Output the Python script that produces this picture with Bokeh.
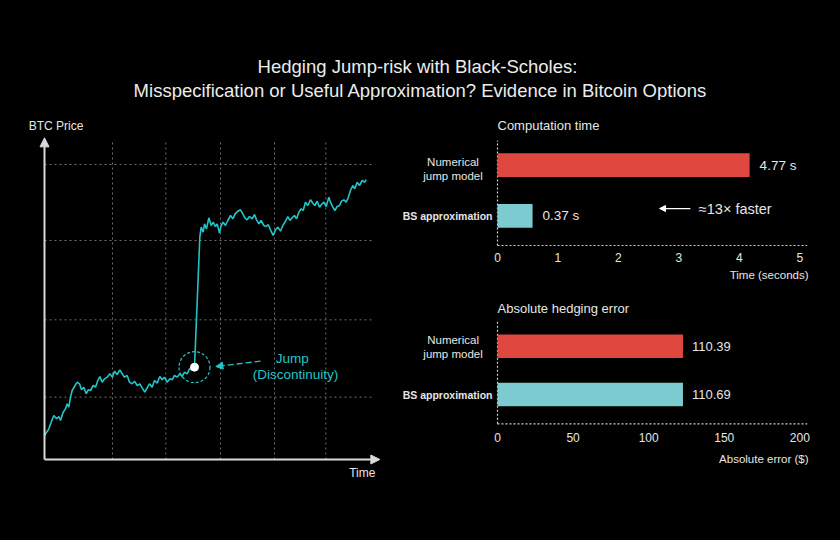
from bokeh.plotting import figure
from bokeh.layouts import column, row
from bokeh.models import Range1d, Arrow, NormalHead, ColumnDataSource
from bokeh.core.properties import value
from bokeh.embed import file_html
from bokeh.resources import INLINE

FONT = "Liberation Sans"
BG = "#000000"
CYAN = "#22c5c7"
RED = "#e0473f"
CYAN_BAR = "#7ccbd0"
TXT = "#e6e6e6"
AXC = "#d9d9d9"
GRIDC = "#6f6f6f"

# ---------------- data ----------------
title_lines = ["Hedging Jump-risk with Black-Scholes:",
               "Misspecification or Useful Approximation? Evidence in Bitcoin Options"]

t_days = [0, 3.25, 5, 7, 9, 10.75, 12, 14, 15.75, 17, 18.25, 19.5, 20.75, 22.5, 24.5, 26.25,
          27.75, 29.5, 31.25, 32.75, 34.5, 36.5, 38.25, 40, 41.5, 43.25, 45, 47, 49, 51, 52.5,
          54.5, 56.5, 58.25, 60, 62, 63.75, 65.75, 67.5, 69.5, 71.5, 73.25, 75.25, 77, 78.75,
          80.75, 82.5, 84.5, 86.5, 88.25, 90, 92, 94, 95.75, 97.5, 99.5, 101.5, 103.25, 105,
          107, 108.75, 110.75, 112.5,
          116.5, 117.5, 119, 120, 121.5, 123.25, 125, 126.5, 128.25, 129.5, 131.25, 132.5, 134,
          135.75, 137.5, 139.5, 141.25, 143, 145, 147, 148.75, 150.25, 152, 153.75, 155.75,
          157.5, 159, 160.75, 162.5, 164.5, 166.25, 167.75, 169.5, 171.5, 173.25, 175, 177,
          178.75, 180.75, 182.5, 184, 185.75, 187.5, 189, 190.75, 192.5, 194, 195.75, 197.5,
          199.5, 201.25, 202.75, 204.5, 206.25, 207.75, 209.5, 211.25, 213.25, 214.5, 216.25,
          217.75, 219.5, 221.25, 222.75, 224.5, 226.25, 227.75, 229.5, 231.25, 232.75, 234.5,
          236.25, 238.25, 240, 241.25]
btc_price = [7.2, 9.2, 11.2, 13.2, 12.2, 12.9, 11.7, 14.2, 15.2, 16.7, 15.7, 18.7, 20.7, 21.9,
             23.2, 22.7, 20.9, 21.7, 19.7, 20.9, 20.7, 22.2, 21.7, 23.7, 24.9, 23.2, 24.2, 24.7,
             25.7, 24.7, 26.5, 25.5, 26.9, 25.7, 24.7, 25.2, 23.2, 22.7, 23.5, 22.2, 22.7, 21.5,
             20.2, 21.5, 22.7, 21.7, 23.7, 22.9, 24.9, 23.9, 24.7, 23.2, 24.2, 23.9, 25.2, 24.7,
             25.7, 24.9, 26.2, 25.7, 27.2, 26.9, 27.7,
             66.7, 69.7, 68.2, 70.7, 69.2, 72.5, 70.2, 71.2, 69.9, 70.7, 67.9, 70.2, 71.2, 70.2,
             71.7, 73.2, 72.2, 73.7, 74.5, 74.9, 73.7, 72.5, 71.9, 72.9, 72.2, 73.5, 71.9, 70.7,
             71.7, 70.2, 69.9, 70.5, 68.9, 67.2, 68.9, 69.7, 68.5, 70.2, 71.5, 72.9, 71.7, 72.5,
             73.2, 72.2, 74.2, 75.2, 74.7, 77.2, 76.2, 77.9, 76.9, 76.2, 77.5, 75.7, 76.5, 77.2,
             75.9, 78.7, 77.2, 75.7, 74.7, 75.9, 76.2, 77.5, 77.9, 77.2, 78.5, 80.7, 82.2, 81.2,
             83.2, 82.2, 83.7, 83.2, 83.9]
jump_index = 62

grid_t = [51, 91, 132, 172.5, 211]
grid_p = [18.7, 41.9, 65.7, 88.5]

models = ["Numerical jump model", "BS approximation"]
model_lines = [["Numerical", "jump model"], ["BS approximation"]]
time_bar = [4.17, 0.58]
time_text = ["4.77 s", "0.37 s"]
time_ticks = [0, 1, 2, 3, 4, 5]
err_bar = [122.7, 122.7]
err_text = ["110.39", "110.69"]
err_ticks = [0, 50, 100, 150, 200]
bar_colors = [RED, CYAN_BAR]
speedup_text = "\u224813\u00d7 faster"

BLACK_STYLE = {"background-color": BG}


def base_fig(w, h, xr, yr):
    p = figure(width=w, height=h, x_range=xr, y_range=yr, output_backend="svg",
               toolbar_location=None, min_border=0, x_axis_location=None,
               y_axis_location=None, outline_line_color=None,
               background_fill_color=BG, border_fill_color=BG, styles=BLACK_STYLE)
    p.xgrid.visible = False
    p.ygrid.visible = False
    return p


def txt(p, x, y, text, size, color=TXT, align="left", bold=False, **kw):
    p.text(x=x, y=y, text=text, text_font=value(FONT), text_font_size=f"{size}px",
           text_color=color, text_align=align, text_baseline="middle",
           text_font_style="bold" if bold else "normal", **kw)


# ---------------- title ----------------
tp = base_fig(840, 100, Range1d(0, 840), Range1d(0, 100))
txt(tp, [417], [34], [title_lines[0]], 18.5, color="#ececec", align="center")
txt(tp, [420], [10.5], [title_lines[1]], 18.5, color="#ececec", align="center")

# ---------------- left: price path ----------------
lp = base_fig(390, 440, Range1d(-33, 259.5), Range1d(-24.3, 107.7))
lp.segment(x0=[0] * len(grid_p), x1=[247.5] * len(grid_p), y0=grid_p, y1=grid_p,
           line_color=GRIDC, line_dash="2 3", line_width=1)
lp.segment(x0=grid_t, x1=grid_t, y0=[0] * len(grid_t), y1=[95.7] * len(grid_t),
           line_color=GRIDC, line_dash="2 3", line_width=1)
lp.add_layout(Arrow(end=NormalHead(size=9, fill_color=AXC, line_color=AXC),
                    x_start=0, y_start=0, x_end=0, y_end=96.5, line_color=AXC, line_width=2))
lp.add_layout(Arrow(end=NormalHead(size=9, fill_color=AXC, line_color=AXC),
                    x_start=0, y_start=0, x_end=251.5, y_end=0, line_color=AXC, line_width=2))
lp.line(t_days, btc_price, line_color=CYAN, line_width=1.6)
jx, jy = t_days[jump_index], btc_price[jump_index]
lp.scatter([jx], [jy], size=31, marker="circle", fill_alpha=0, line_color=CYAN,
           line_dash="3 2", line_width=1.2)
lp.scatter([jx], [jy], size=8, marker="circle", fill_color="white", line_color="white")
lp.add_layout(Arrow(end=NormalHead(size=7, fill_color=CYAN, line_color=CYAN),
                    x_start=162, y_start=29.5, x_end=128.5, y_end=27.9,
                    line_color=CYAN, line_dash="6 3", line_width=1.3))
txt(lp, [185.75], [30.2], ["Jump"], 13.5, color=CYAN, align="center")
txt(lp, [188.25], [25.4], ["(Discontinuity)"], 13.5, color=CYAN, align="center")
txt(lp, [-11.8], [100.1], ["BTC Price"], 12)
txt(lp, [248.2], [-4.1], ["Time"], 12, align="right")


# ---------------- right: bar charts ----------------
def bar_panel(h, xr, yr, ax_y, ax_top, ax_right, tick_y, ticks, bars, labels, bar_h,
              label_off, label_size, title, title_y, xlabel, xlabel_x, xlabel_y,
              cat_x_center, cat_x_right, cat_line_y):
    p = base_fig(450, h, xr, yr)
    # dotted axes
    p.segment(x0=[0, 0], y0=[ax_y, ax_y], x1=[0, ax_right], y1=[ax_top, ax_y],
              line_color="#cfcfcf", line_dash="2 2", line_width=1.2)
    # tick labels
    txt(p, ticks, [tick_y] * len(ticks), [str(t) for t in ticks], 12, align="center")
    ypos = list(range(len(models)))[::-1]
    src = ColumnDataSource(dict(y=ypos, right=bars, color=bar_colors, label=labels))
    p.hbar(y="y", left=0, right="right", height=bar_h, fill_color="color",
           line_color=None, source=src)
    p.text(x="right", y="y", text="label", source=src, x_offset=label_off,
           text_font=value(FONT), text_font_size=f"{label_size}px", text_color=TXT,
           text_align="left", text_baseline="middle")
    txt(p, [0], [title_y], [title], 13)
    txt(p, [xlabel_x], [xlabel_y], [xlabel], 11.5, align="right")
    # category labels
    txt(p, [cat_x_center] * 2, cat_line_y, model_lines[0], 11.5, align="center")
    txt(p, [cat_x_right], [ypos[1]], model_lines[1], 10.5, align="right", bold=True)
    return p


rt = bar_panel(190, Range1d(-107 / 60.46, 343 / 60.46), Range1d(-1.476, 2.279),
               ax_y=-0.587, ax_top=1.488, ax_right=5.122, tick_y=-0.818, ticks=time_ticks,
               bars=time_bar, labels=time_text, bar_h=0.47, label_off=10, label_size=13.5,
               title="Computation time", title_y=1.785, xlabel="Time (seconds)",
               xlabel_x=5.144, xlabel_y=-1.16, cat_x_center=-0.736, cat_x_right=-0.083,
               cat_line_y=[1.073, 0.783])
rt.add_layout(Arrow(end=NormalHead(size=6, fill_color="white", line_color="white"),
                    x_start=3.19, y_start=0.144, x_end=2.68, y_end=0.144,
                    line_color="white", line_width=1.3))
txt(rt, [3.33], [0.125], [speedup_text], 14.5)

rb = bar_panel(250, Range1d(-107 / 1.5115, 343 / 1.5115), Range1d(-3.029, 2.158),
               ax_y=-0.608, ax_top=1.535, ax_right=204.9, tick_y=-0.886, ticks=err_ticks,
               bars=err_bar, labels=err_text, bar_h=0.49, label_off=9, label_size=13,
               title="Absolute hedging error", title_y=1.79, xlabel="Absolute error ($)",
               xlabel_x=205.8, xlabel_y=-1.334, cat_x_center=-29.4, cat_x_right=-3.3,
               cat_line_y=[1.135, 0.844])

right_col = column(rt, rb, spacing=0, styles=BLACK_STYLE)
body_row = row(lp, right_col, spacing=0, styles=BLACK_STYLE)
layout = column(tp, body_row, spacing=0, styles=BLACK_STYLE)

html = file_html(layout, INLINE)
html = html.replace("</head>",
                    "<style>html,body{margin:0;padding:0;background:#000000 !important;}</style></head>", 1)
open("out.html", "w").write(html)
